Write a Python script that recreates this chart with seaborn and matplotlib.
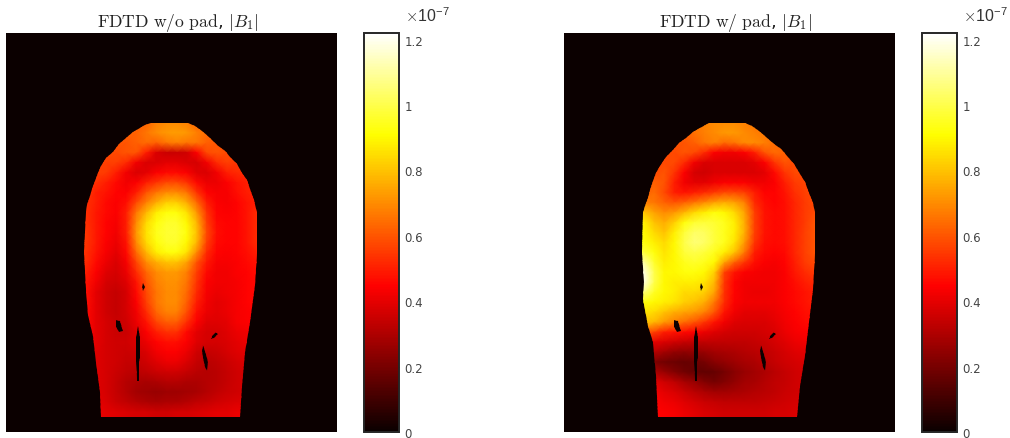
#!/usr/bin/env python3
"""
|B1| maps from FDTD, without and with the pad.
"""

import numpy as np
import matplotlib.pyplot as plt
import seaborn as sns
from matplotlib.patches import PathPatch
from matplotlib.path import Path

# field inside the head, in units of 1e-9, columns 8-25, rows 9-38 of a 33x40 grid
no_pad_field = [
    [62, 62, 62, 62, 62, 62, 62, 68, 70, 70, 68, 62, 62, 62, 62, 62, 62, 62],
    [62, 62, 62, 62, 62, 62, 66, 70, 72, 73, 72, 68, 64, 62, 62, 62, 62, 62],
    [60, 60, 60, 60, 60, 62, 64, 62, 66, 68, 66, 66, 62, 60, 60, 60, 60, 60],
    [58, 58, 58, 58, 60, 60, 50, 38, 35, 35, 36, 44, 58, 60, 58, 58, 58, 58],
    [56, 56, 56, 56, 52, 42, 38, 38, 40, 40, 38, 37, 42, 52, 56, 54, 54, 54],
    [55, 56, 55, 50, 42, 38, 40, 44, 46, 46, 44, 39, 38, 42, 50, 52, 52, 52],
    [54, 53, 50, 46, 42, 44, 50, 54, 58, 58, 54, 46, 41, 41, 44, 48, 50, 50],
    [55, 50, 48, 45, 44, 50, 60, 66, 70, 70, 66, 54, 45, 43, 43, 47, 50, 51],
    [53, 50, 46, 44, 47, 58, 68, 76, 82, 82, 76, 64, 50, 44, 43, 45, 48, 50],
    [53, 49, 46, 44, 50, 66, 78, 88, 92, 92, 86, 72, 54, 45, 44, 45, 48, 52],
    [53, 49, 45, 43, 50, 70, 84, 92, 96, 96, 90, 78, 56, 46, 45, 45, 48, 52],
    [54, 49, 45, 42, 50, 72, 86, 94, 97, 97, 92, 80, 58, 47, 45, 45, 48, 52],
    [54, 49, 44, 41, 48, 70, 84, 92, 96, 96, 90, 78, 56, 46, 45, 45, 48, 52],
    [53, 48, 43, 40, 46, 64, 78, 88, 92, 92, 86, 70, 52, 45, 44, 45, 47, 50],
    [52, 46, 41, 38, 43, 57, 70, 76, 80, 80, 74, 60, 49, 43, 43, 44, 46, 48],
    [50, 44, 39, 37, 41, 52, 63, 70, 72, 72, 68, 56, 46, 42, 42, 44, 45, 47],
    [48, 42, 37, 36, 39, 48, 60, 68, 71, 71, 66, 54, 44, 42, 42, 43, 45, 46],
    [47, 40, 36, 34, 37, 46, 58, 66, 70, 70, 64, 52, 43, 41, 42, 43, 45, 46],
    [47, 40, 36, 34, 37, 44, 56, 66, 70, 70, 62, 50, 42, 40, 41, 43, 45, 46],
    [46, 40, 36, 34, 37, 42, 52, 63, 68, 68, 59, 47, 41, 40, 41, 43, 44, 44],
    [46, 40, 37, 35, 36, 41, 48, 57, 61, 61, 53, 44, 39, 39, 40, 43, 44, 44],
    [45, 40, 37, 35, 35, 39, 44, 50, 53, 53, 46, 40, 37, 37, 39, 41, 42, 42],
    [44, 40, 37, 36, 36, 38, 41, 45, 47, 47, 44, 39, 37, 37, 38, 40, 41, 41],
    [43, 39, 37, 36, 35, 36, 38, 42, 44, 44, 41, 36, 34, 35, 37, 39, 40, 40],
    [42, 39, 37, 36, 34, 34, 36, 39, 41, 41, 38, 34, 32, 33, 35, 37, 38, 38],
    [41, 39, 37, 35, 33, 32, 33, 35, 36, 36, 34, 32, 31, 32, 34, 36, 37, 37],
    [41, 39, 37, 34, 31, 30, 29, 30, 31, 31, 30, 30, 31, 32, 34, 36, 37, 37],
    [41, 39, 37, 34, 31, 28, 27, 26, 27, 27, 28, 29, 31, 33, 35, 36, 37, 37],
    [41, 40, 38, 35, 33, 31, 30, 29, 30, 30, 31, 33, 34, 36, 37, 38, 38, 38],
    [42, 41, 40, 39, 38, 37, 37, 36, 36, 37, 37, 38, 39, 40, 40, 41, 41, 41],
]

pad_field = [
    [62, 62, 62, 62, 62, 65, 68, 70, 70, 70, 68, 66, 64, 62, 62, 62, 62, 62],
    [62, 62, 62, 62, 62, 65, 68, 70, 72, 72, 70, 68, 66, 62, 62, 62, 62, 62],
    [60, 60, 60, 60, 60, 62, 66, 68, 64, 66, 70, 70, 68, 64, 62, 60, 60, 60],
    [58, 58, 58, 58, 60, 58, 52, 44, 42, 42, 44, 50, 60, 64, 62, 60, 60, 60],
    [56, 56, 58, 58, 52, 42, 38, 38, 38, 38, 38, 40, 44, 54, 60, 58, 58, 58],
    [56, 58, 60, 54, 44, 37, 36, 38, 38, 38, 38, 38, 40, 46, 54, 58, 58, 58],
    [58, 62, 60, 50, 42, 40, 40, 42, 44, 44, 44, 42, 42, 44, 50, 55, 57, 57],
    [62, 64, 58, 50, 48, 50, 52, 55, 58, 58, 56, 50, 45, 45, 48, 53, 56, 58],
    [68, 66, 62, 60, 62, 66, 70, 74, 76, 74, 68, 52, 47, 45, 47, 51, 55, 58],
    [80, 74, 70, 72, 78, 84, 88, 92, 90, 84, 74, 56, 48, 46, 47, 51, 55, 58],
    [88, 80, 76, 82, 92, 97, 98, 97, 94, 88, 76, 56, 48, 46, 47, 51, 55, 60],
    [90, 84, 80, 88, 98, 103, 102, 98, 94, 88, 76, 56, 48, 46, 47, 51, 56, 60],
    [92, 88, 84, 90, 100, 105, 103, 98, 94, 86, 72, 54, 47, 46, 47, 51, 56, 60],
    [98, 92, 86, 90, 98, 100, 98, 94, 88, 80, 66, 50, 46, 45, 46, 51, 56, 60],
    [110, 96, 88, 90, 94, 96, 94, 90, 74, 62, 54, 47, 44, 43, 45, 50, 55, 58],
    [118, 100, 90, 90, 92, 92, 90, 82, 56, 48, 44, 43, 42, 42, 44, 49, 52, 55],
    [118, 100, 90, 88, 88, 88, 86, 78, 54, 45, 42, 42, 42, 42, 44, 47, 50, 52],
    [105, 95, 90, 88, 84, 84, 82, 74, 53, 45, 42, 41, 41, 42, 44, 46, 48, 50],
    [92, 90, 88, 86, 82, 80, 76, 66, 52, 44, 42, 42, 42, 42, 44, 46, 48, 50],
    [86, 84, 80, 76, 74, 72, 68, 60, 48, 42, 40, 40, 40, 41, 43, 45, 47, 48],
    [80, 78, 72, 68, 64, 60, 54, 48, 42, 39, 38, 38, 38, 40, 42, 44, 46, 46],
    [62, 56, 50, 48, 46, 44, 41, 39, 37, 36, 36, 36, 37, 38, 41, 43, 44, 44],
    [40, 40, 38, 36, 34, 33, 33, 33, 33, 33, 33, 34, 35, 37, 39, 41, 42, 42],
    [32, 31, 28, 25, 24, 25, 26, 28, 29, 30, 31, 32, 33, 35, 37, 39, 40, 40],
    [22, 21, 19, 18, 17, 18, 20, 23, 25, 27, 29, 30, 32, 34, 36, 37, 38, 38],
    [32, 30, 26, 22, 19, 17, 16, 17, 20, 23, 26, 28, 30, 32, 34, 36, 37, 37],
    [40, 39, 36, 33, 29, 26, 22, 20, 22, 25, 28, 29, 31, 33, 34, 36, 37, 37],
    [44, 42, 40, 38, 35, 32, 30, 28, 28, 29, 30, 31, 32, 33, 35, 36, 37, 37],
    [45, 44, 42, 41, 39, 37, 35, 34, 33, 33, 33, 33, 34, 35, 36, 37, 37, 37],
    [46, 45, 44, 43, 41, 40, 38, 37, 36, 36, 36, 36, 36, 37, 37, 38, 38, 38],
]

# head outline in grid units, clockwise from the top
no_pad_outline_x = [14.5, 13.9, 13.4, 12.7, 12.0, 11.3, 10.7, 10.0, 9.5, 9.15, 8.9, 8.55, 8.4, 8.1, 8.0,
                    7.8, 8.0, 8.2, 8.7, 9.0, 9.4, 9.5,
                    23.3, 23.5, 23.8, 24.3, 24.8, 25.0, 25.0, 24.75, 24.3, 24.0, 23.5, 23.0, 22.3,
                    21.8, 21.0, 20.3, 19.5, 18.85, 18.1]
no_pad_outline_y = [9.0, 9.2, 9.55, 9.95, 10.5, 11.1, 11.9, 12.55, 13.3, 14.0, 14.8, 15.6, 16.3, 17.2, 18.0,
                    22.0, 25.7, 28.3, 30.4, 33.0, 36.0, 38.5,
                    38.5, 35.4, 32.0, 29.0, 25.3, 22.0, 18.0, 16.7, 15.6, 14.7, 14.0, 13.1, 12.4,
                    11.8, 11.2, 10.5, 9.85, 9.35, 9.0]
pad_outline_x = [14.5, 13.6, 12.9, 12.2, 11.5, 10.9, 10.2, 9.6, 9.2, 8.9, 8.55, 8.4, 8.05, 7.9,
                 7.8, 8.0, 7.9, 8.4, 8.9, 9.2, 9.4,
                 23.2, 23.5, 24.0, 24.4, 24.8, 25.0, 25.0, 24.8, 24.4, 24.0, 23.5, 22.95, 22.2,
                 21.6, 20.9, 20.1, 19.4, 18.7, 18.0]
pad_outline_y = [9.0, 9.5, 9.95, 10.5, 11.0, 11.7, 12.45, 13.3, 14.0, 14.8, 15.7, 16.5, 17.3, 18.0,
                 22.0, 25.0, 26.7, 29.4, 31.0, 34.3, 38.5,
                 38.5, 35.4, 32.3, 29.0, 25.7, 22.0, 18.0, 17.0, 16.0, 14.95, 14.1, 13.1, 12.3,
                 11.6, 11.1, 10.45, 9.85, 9.35, 9.0]

# air gaps inside the head in grid units, corners running top, right, bottom, left
gap_x = [
    [13.7, 13.85, 13.7, 13.55],
    [11.0, 11.35, 11.65, 11.3, 11.0],
    [13.15, 13.4, 13.4, 13.3, 13.3, 13.05, 13.0, 12.95, 12.95],
    [19.65, 19.95, 20.15, 20.05, 19.8, 19.6, 19.5],
    [20.95, 21.15, 20.75, 20.45, 20.5],
]
gap_y = [
    [25.1, 25.5, 25.9, 25.5],
    [28.75, 28.9, 29.9, 30.0, 29.5],
    [29.4, 30.5, 32.6, 33.0, 34.9, 34.9, 33.0, 32.6, 30.5],
    [31.3, 32.2, 33.0, 33.9, 33.5, 32.6, 31.9],
    [30.0, 30.2, 30.6, 30.7, 30.4],
]

panels = [
    ("FDTD w/o pad", no_pad_field, no_pad_outline_x, no_pad_outline_y, 6, 364),
    ("FDTD w/ pad", pad_field, pad_outline_x, pad_outline_y, 564, 922),
]
bar_ticks = [0, 0.2, 0.4, 0.6, 0.8, 1.0, 1.2]
bar_labels = ["0", "0.2", "0.4", "0.6", "0.8", "1", "1.2"]

W, H = 1010, 439


def ring(xs, ys):
    pts = np.column_stack([xs + xs[:1], ys + ys[:1]])
    return Path(pts, closed=True)


def draw_panel(fig, title, field, out_x, out_y, left, bar_left):
    ax = fig.add_axes([left / W, 6 / H, 331 / W, 399 / H])
    cax = fig.add_axes([bar_left / W, 6 / H, 35 / W, 399 / H])

    # pad the head block out to the whole frame
    block = np.pad(np.array(field) / 100.0, 1, mode="edge")
    grid = np.pad(block, ((8, 1), (7, 7)), mode="constant")

    sns.heatmap(grid, ax=ax, cbar_ax=cax, cmap="hot", vmin=0, vmax=1.22,
                xticklabels=False, yticklabels=False, shading="gouraud",
                cbar_kws={"ticks": bar_ticks})
    ax.set_xlim(0, grid.shape[1] - 1)
    ax.set_ylim(grid.shape[0] - 1, 0)
    ax.set_facecolor(plt.get_cmap("hot")(0.0))
    ax.set_title(title + r", $|B_1|$", fontsize=12.7, pad=5, x=0.518)

    # sharp head edge and air gaps
    shape = Path.make_compound_path(ring(out_x, out_y),
                                    *[ring(x, y) for x, y in zip(gap_x, gap_y)])
    clip = PathPatch(shape, transform=ax.transData, facecolor="none", edgecolor="none")
    ax.collections[0].set_clip_path(clip)

    cb = ax.collections[0].colorbar
    cb.set_ticklabels(bar_labels)
    cb.outline.set_linewidth(1.4)
    cb.outline.set_edgecolor("#262626")
    cax.tick_params(direction="in", length=6.5, width=0.7, color="#333333",
                    labelsize=8.5, labelcolor="#444444", pad=4)
    cax.text(1.16, 1.03, r"$\times$10$^{\mathregular{-7}}$", transform=cax.transAxes,
             family="Liberation Sans", fontsize=11.5, color="#333333", va="baseline")


def main():
    sns.set_theme(style="white")
    plt.rcParams["mathtext.fontset"] = "cm"
    plt.rcParams["font.family"] = ["DejaVu Sans"]
    plt.rcParams["axes.titlecolor"] = "#222222"

    fig = plt.figure(figsize=(W / 100, H / 100), dpi=100)
    for name, field, out_x, out_y, left, bar_left in panels:
        title = r"$\mathrm{" + name.replace(" ", r"\ ") + "}$"
        draw_panel(fig, title, field, out_x, out_y, left, bar_left)

    fig.savefig("out.png", dpi=100)
    plt.close(fig)


if __name__ == "__main__":
    main()
